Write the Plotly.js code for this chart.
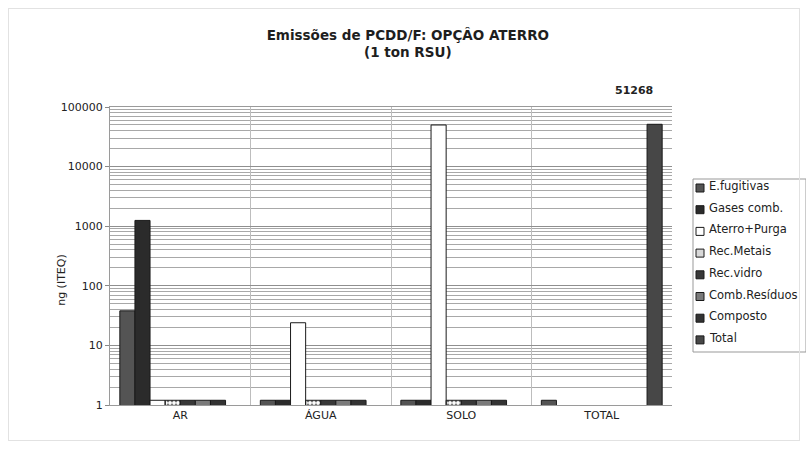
<!DOCTYPE html>
<html>
<head>
<meta charset="utf-8">
<script src="https://cdn.plot.ly/plotly-3.0.1.min.js"></script>
<style>
  html, body { margin: 0; padding: 0; background: #fff; }
  #wrap { position: relative; width: 806px; height: 449px; overflow: hidden; }
  #chart { width: 806px; height: 449px; }
  #frame { position: absolute; left: 8px; top: 8px; width: 790px; height: 431px;
           border: 1px solid #e2e2e2; pointer-events: none; }
</style>
</head>
<body>
<div id="wrap">
  <div id="chart"></div>
  <div id="frame"></div>
</div>
<script>
// PCDD/F emissions per tonne of MSW, landfill option (ng I-TEQ)
const categories = ['AR', 'ÁGUA', 'SOLO', 'TOTAL'];

const eFugitivas    = [38, 1.2, 1.2, 1.2];
const gasesComb     = [1250, 1.2, 1.2, null];
const aterroPurga   = [1.2, 24, 49900, null];
const recMetais     = [1.2, 1.2, 1.2, null];
const recVidro      = [1.2, 1.2, 1.2, null];
const combResiduos  = [1.2, 1.2, 1.2, null];
const composto      = [1.2, 1.2, 1.2, null];
const total         = [null, null, null, 51268];

const yTickVals = [1, 10, 100, 1000, 10000, 100000];
const yTickText = ['1', '10', '100', '1000', '10000', '100000'];

const seriesNames  = ['E.fugitivas', 'Gases comb.', 'Aterro+Purga', 'Rec.Metais',
                      'Rec.vidro', 'Comb.Resíduos', 'Composto', 'Total'];
const seriesValues = [eFugitivas, gasesComb, aterroPurga, recMetais,
                      recVidro, combResiduos, composto, total];
const seriesFill   = ['#545454', '#2b2b2b', '#ffffff', '#d8d8d8',
                      '#383838', '#7a7a7a', '#333333', '#474747'];

const traces = seriesNames.map((name, i) => ({
  type: 'bar',
  name: name,
  x: categories,
  y: seriesValues[i],
  showlegend: false,
  marker: {
    color: seriesFill[i],
    line: { color: '#1a1a1a', width: 1 },
    pattern: i === 3 ? { shape: '.', fgcolor: '#777', size: 4, solidity: 0.4 } : undefined
  },
  hoverinfo: 'x+y+name'
}));

const font = '"DejaVu Sans", Verdana, sans-serif';
const totalIdx = categories.indexOf('TOTAL');

// plot area in pixels: used to place the side legend in paper units
const plotL = 110, plotR = 672, plotT = 107, plotB = 405;
const px2x = px => (px - plotL) / (plotR - plotL);
const px2y = py => (plotB - py) / (plotB - plotT);

// legend box with one square key and label per series
const legLeft = 693, legRight = 806, legTop = 179, legBottom = 352;
const legFirst = 186, legStep = 21.7, keySize = 8;

const shapes = [{
  type: 'rect', xref: 'paper', yref: 'paper',
  x0: px2x(legLeft), x1: px2x(legRight), y0: px2y(legBottom), y1: px2y(legTop),
  line: { color: '#999', width: 1 }, fillcolor: '#ffffff', layer: 'above'
}];
const annotations = [];
seriesNames.forEach((name, i) => {
  const cy = legFirst + i * legStep;
  shapes.push({
    type: 'rect', xref: 'paper', yref: 'paper',
    x0: px2x(legLeft + 3), x1: px2x(legLeft + 3 + keySize),
    y0: px2y(cy + 2 + keySize / 2), y1: px2y(cy + 2 - keySize / 2),
    line: { color: '#1a1a1a', width: 1 }, fillcolor: seriesFill[i], layer: 'above'
  });
  annotations.push({
    x: px2x(legLeft + 14), y: px2y(cy),
    xref: 'paper', yref: 'paper', xanchor: 'left', yanchor: 'middle',
    text: name, showarrow: false,
    font: { family: font, size: 11.5, color: '#222' }
  });
});

// value label above the total bar
annotations.push({
  x: categories[totalIdx],
  y: Math.log10(total[totalIdx]),
  xref: 'x', yref: 'y',
  text: '<b>' + String(total[totalIdx]) + '</b>',
  showarrow: false,
  xshift: 32, yshift: 34,
  font: { family: font, size: 11, color: '#222' }
});

// y axis title
annotations.push({
  x: 0, y: 0.42,
  xref: 'paper', yref: 'paper',
  xanchor: 'center', yanchor: 'middle',
  xshift: -48,
  text: 'ng (ITEQ)',
  textangle: -90,
  showarrow: false,
  font: { family: font, size: 11, color: '#222' }
});

const layout = {
  width: 806,
  height: 449,
  paper_bgcolor: '#ffffff',
  plot_bgcolor: '#ffffff',
  margin: { l: plotL, r: 806 - plotR, t: plotT, b: 449 - plotB, autoexpand: false },
  font: { family: font, size: 11, color: '#222' },
  showlegend: false,
  title: {
    text: '<b>Emissões de PCDD/F: OPÇÂO ATERRO<br>(1 ton RSU)</b>',
    font: { family: font, size: 13.5, color: '#1e1e1e' },
    x: 0.506, xanchor: 'center',
    y: 0.912, yanchor: 'top'
  },
  barmode: 'group',
  bargap: 0.14,
  bargroupgap: 0,
  xaxis: {
    type: 'category',
    tickson: 'boundaries',
    ticks: '',
    showgrid: true,
    gridcolor: '#bdbdbd',
    gridwidth: 1,
    showline: true,
    linecolor: '#9a9a9a',
    mirror: true,
    tickfont: { family: font, size: 11, color: '#222' },
    fixedrange: true
  },
  yaxis: {
    type: 'log',
    range: [0, 5],
    tickvals: yTickVals,
    ticktext: yTickText,
    ticks: 'outside',
    ticklen: 4,
    tickcolor: '#888',
    showgrid: true,
    gridcolor: '#8f8f8f',
    gridwidth: 1,
    minor: { dtick: 'D1', showgrid: true, gridcolor: '#a8a8a8', gridwidth: 1, ticks: '' },
    showline: true,
    linecolor: '#9a9a9a',
    tickfont: { family: font, size: 11, color: '#222' },
    fixedrange: true
  },
  shapes: shapes,
  annotations: annotations
};

Plotly.newPlot('chart', traces, layout, { displayModeBar: false, staticPlot: true });
</script>
</body>
</html>
